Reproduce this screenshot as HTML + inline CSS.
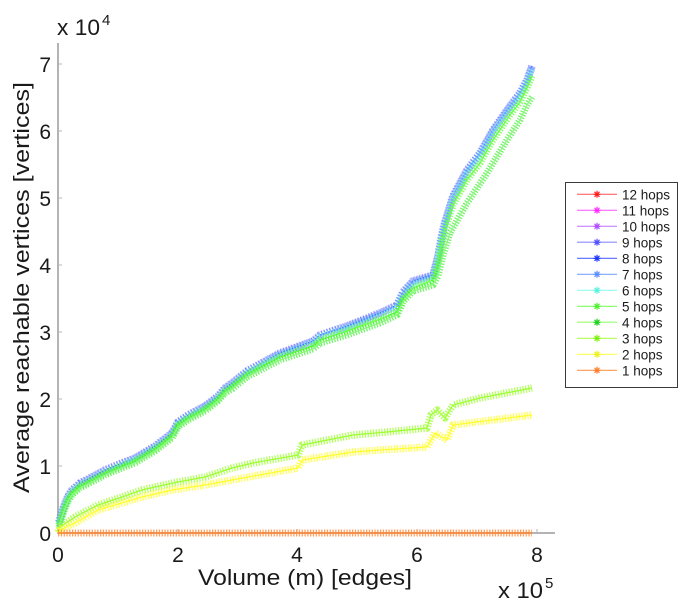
<!DOCTYPE html>
<html><head><meta charset="utf-8"><style>
html,body{margin:0;padding:0;background:#fff;}
svg{display:block;}
text{font-family:"Liberation Sans",Arial,sans-serif;fill:#1a1a1a;}
</style></head><body>
<svg width="682" height="600" viewBox="0 0 682 600" xmlns="http://www.w3.org/2000/svg">
<defs>
<path id="ast" d="M-3.5,0H3.5M0,-3.5V3.5M-2.5,-2.5L2.5,2.5M-2.5,2.5L2.5,-2.5" fill="none" stroke-width="1.2"/>
</defs>
<!-- axes -->
<g stroke="#b4b4b4" stroke-width="2" fill="none">
<line x1="58" y1="43" x2="58" y2="534"/>
<line x1="57" y1="533" x2="555" y2="533"/>
</g>
<g stroke="#b4b4b4" stroke-width="1" fill="none">
<line x1="58" y1="466" x2="62" y2="466"/><line x1="58" y1="399" x2="62" y2="399"/><line x1="58" y1="332" x2="62" y2="332"/><line x1="58" y1="265" x2="62" y2="265"/><line x1="58" y1="198" x2="62" y2="198"/><line x1="58" y1="131" x2="62" y2="131"/><line x1="58" y1="64" x2="62" y2="64"/>
<line x1="178" y1="533" x2="178" y2="529"/><line x1="297" y1="533" x2="297" y2="529"/><line x1="417" y1="533" x2="417" y2="529"/><line x1="537" y1="533" x2="537" y2="529"/>
</g>
<!-- y tick labels -->
<g font-size="21" text-anchor="end">
<text x="51" y="541">0</text><text x="51" y="474">1</text><text x="51" y="407">2</text><text x="51" y="340">3</text><text x="51" y="273">4</text><text x="51" y="206">5</text><text x="51" y="139">6</text><text x="51" y="72">7</text>
</g>
<g font-size="21" text-anchor="middle">
<text x="58" y="562">0</text><text x="178" y="562">2</text><text x="297" y="562">4</text><text x="417" y="562">6</text><text x="537" y="562">8</text>
</g>
<text x="57" y="35" font-size="22" textLength="43" lengthAdjust="spacingAndGlyphs">x 10</text><text x="102" y="25" font-size="15">4</text>
<text x="498" y="598" font-size="22" textLength="45" lengthAdjust="spacingAndGlyphs">x 10</text><text x="545" y="588" font-size="15">5</text>
<text x="198" y="585" font-size="22" textLength="214" lengthAdjust="spacingAndGlyphs">Volume (m) [edges]</text>
<text transform="translate(29,287.5) rotate(-90)" x="0" y="0" font-size="22" text-anchor="middle" textLength="411" lengthAdjust="spacingAndGlyphs">Average reachable vertices [vertices]</text>

<!-- series -->
<g fill="none" stroke-linejoin="round">
<!-- 9 hops -->
<g stroke="#8a8cff">
<polyline stroke-width="8" stroke-dasharray="1.3 1.5" stroke-opacity="0.6" points="59,522 61,515 64,506 68,496 72,490 80,483 88,479 105,470 122,463 135,458 155,446 172,433 178,422 188,415 205,406 218,396 225,388 232,383 247,371 280,353 313,341 320,335 347,326 380,313 397,305 403,292 413,281 423,278 433,275 438,256 442,234 445,222 453,196 467,170 480,153 493,130 510,106 520,93 527,80 532,66"/>
</g>
<!-- 8 hops -->
<g stroke="#4a60ff">
<polyline stroke-width="7" stroke-dasharray="1.2 1.8" stroke-opacity="0.6" points="59,522 61,515 64,506 68,496 72,490 80,483 88,479 105,470 122,463 135,458 155,446 172,433 178,422 188,415 205,406 218,396 225,388 232,383 247,371 280,353 313,341 320,335 347,326 380,313 397,305 403,292 413,281 423,278 433,275 438,256 442,234 445,222 453,196 467,170 480,153 493,130 510,106 520,93 527,80 532,66"/>
<polyline stroke-width="1.2" points="59,522 61,515 64,506 68,496 72,490 80,483 88,479 105,470 122,463 135,458 155,446 172,433 178,422 188,415 205,406 218,396 225,388 232,383 247,371 280,353 313,341 320,335 347,326 380,313 397,305 403,292 413,281 423,278 433,275 438,256 442,234 445,222 453,196 467,170 480,153 493,130 510,106 520,93 527,80 532,66"/>
</g>
<!-- 7 hops -->
<g stroke="#6ea4ff">
<polyline stroke-width="7" stroke-dasharray="1.3 1.6" stroke-opacity="0.7" points="59,523 61,516 64,507 68,497 72,491 80,484 88,480 105,471 122,464 135,459 155,447 172,434 178,423 188,416 205,407 218,397 225,389 232,384 247,372 280,354 313,342 320,336 347,327 380,314 397,306 403,293 413,282 423,279 433,276 438,257 442,235 445,223 453,197 467,171 480,154 493,131 510,107 520,94 527,81 532,67"/>
<polyline stroke-width="1.2" points="59,523 61,516 64,507 68,497 72,491 80,484 88,480 105,471 122,464 135,459 155,447 172,434 178,423 188,416 205,407 218,397 225,389 232,384 247,372 280,354 313,342 320,336 347,327 380,314 397,306 403,293 413,282 423,279 433,276 438,257 442,235 445,223 453,197 467,171 480,154 493,131 510,107 520,94 527,81 532,67"/>
</g>
<!-- 6 hops -->
<g stroke="#80f8e8">
<polyline stroke-width="6.5" stroke-dasharray="1.3 1.6" stroke-opacity="0.75" points="59,524 61,517 64,508 68,498 72,492 80,485 88,481 105,472 122,465 135,460 155,448 172,435 178,424 188,417 205,408 218,398 225,390 232,385 247,373 280,355 313,343 320,337 347,328 380,316 397,308 403,295 413,284 423,281 433,278 438,259 442,237 445,225 453,199 467,173 480,156 493,133 510,109 520,96 527,83 532,69"/>
</g>
<!-- 5 hops -->
<g stroke="#66ff40">
<polyline stroke-width="7" stroke-dasharray="1.3 1.5" stroke-opacity="0.75" points="59,525 61,518 64,509 68,499 72,493 80,486 88,482 105,473 122,466 135,461 155,449 172,436 178,425 188,418 205,409 218,399 225,391 232,386 247,374 280,357 313,346 320,340 347,331 380,319 397,312 403,299 413,288 423,284 433,280 438,262 442,240 445,230 453,205 467,180 480,163 493,140 510,115 520,102 527,88 532,76"/>
<polyline stroke-width="1.2" points="59,525 61,518 64,509 68,499 72,493 80,486 88,482 105,473 122,466 135,461 155,449 172,436 178,425 188,418 205,409 218,399 225,391 232,386 247,374 280,357 313,346 320,340 347,331 380,319 397,312 403,299 413,288 423,284 433,280 438,262 442,240 445,230 453,205 467,180 480,163 493,140 510,115 520,102 527,88 532,76"/>
</g>
<!-- 4 hops -->
<g stroke="#3cec30">
<polyline stroke-width="7" stroke-dasharray="1.3 1.5" stroke-opacity="0.7" points="59,527 61,520 64,511 68,501 72,495 80,488 88,484 105,475 122,468 135,463 155,451 172,438 178,427 188,420 205,411 218,401 225,393 232,389 247,377 280,360 313,349 320,343 347,335 380,323 397,315 403,302 413,291 423,288 433,285 438,276 443,255 450,233 467,203 487,173 507,140 520,120 527,105 532,97"/>
<polyline stroke-width="1.2" stroke="#90f880" points="59,527 61,520 64,511 68,501 72,495 80,488 88,484 105,475 122,468 135,463 155,451 172,438 178,427 188,420 205,411 218,401 225,393 232,389 247,377 280,360 313,349 320,343 347,335 380,323 397,315 403,302 413,291 423,288 433,285 438,276 443,255 450,233 467,203 487,173 507,140 520,120 527,105 532,97"/>
</g>
<!-- 3 hops -->
<g stroke="#9cff30">
<polyline stroke-width="7.5" stroke-dasharray="1.3 1.5" stroke-opacity="0.75" points="58,532 60,527 75,517 98,505 122,497 142,490 155,487 178,482 205,477 232,468 253,463 298,455 302,445 353,435 387,432 427,428 431,415 437,410 445,418 453,405 480,398 532,388"/>
<polyline stroke-width="1.2" points="58,532 60,527 75,517 98,505 122,497 142,490 155,487 178,482 205,477 232,468 253,463 298,455 302,445 353,435 387,432 427,428 431,415 437,410 445,418 453,405 480,398 532,388"/>
</g>
<!-- 2 hops -->
<g stroke="#ffff30">
<polyline stroke-width="7.5" stroke-dasharray="1.3 1.5" stroke-opacity="0.8" points="58,533 60,530 75,523 98,510 142,497 172,490 205,485 232,480 298,468 302,460 353,452 380,450 427,447 435,433 447,440 453,425 532,415"/>
<polyline stroke-width="1.2" points="58,533 60,530 75,523 98,510 142,497 172,490 205,485 232,480 298,468 302,460 353,452 380,450 427,447 435,433 447,440 453,425 532,415"/>
</g>
<!-- 1 hops -->
<g stroke="#ff8a3a">
<line x1="58" y1="533" x2="532" y2="533" stroke-width="7" stroke-dasharray="1.3 1.5" stroke-opacity="0.8"/>
<line x1="58" y1="533" x2="532" y2="533" stroke-width="1.5"/>
</g>
</g>

<!-- legend -->
<rect x="565.5" y="182.5" width="112" height="205" fill="#fff" stroke="#3a3a3a" stroke-width="1"/>
<g font-size="13.5">
<g transform="translate(0,194.3)"><line x1="577" y1="0" x2="617" y2="0" stroke="#ff5050" stroke-width="1"/><use href="#ast" x="597" y="0" stroke="#ff2020"/><text x="622" y="5">12 hops</text></g>
<g transform="translate(0,210.3)"><line x1="577" y1="0" x2="617" y2="0" stroke="#ff50ff" stroke-width="1"/><use href="#ast" x="597" y="0" stroke="#ff30ff"/><text x="622" y="5">11 hops</text></g>
<g transform="translate(0,226.3)"><line x1="577" y1="0" x2="617" y2="0" stroke="#c070ff" stroke-width="1"/><use href="#ast" x="597" y="0" stroke="#b050ff"/><text x="622" y="5">10 hops</text></g>
<g transform="translate(0,242.3)"><line x1="577" y1="0" x2="617" y2="0" stroke="#a8a8ff" stroke-width="1.5"/><use href="#ast" x="597" y="0" stroke="#5050ff"/><text x="622" y="5">9 hops</text></g>
<g transform="translate(0,258.3)"><line x1="577" y1="0" x2="617" y2="0" stroke="#5068ff" stroke-width="1.2"/><use href="#ast" x="597" y="0" stroke="#2038ff"/><text x="622" y="5">8 hops</text></g>
<g transform="translate(0,274.3)"><line x1="577" y1="0" x2="617" y2="0" stroke="#7aa8ff" stroke-width="1.2"/><use href="#ast" x="597" y="0" stroke="#5a90ff"/><text x="622" y="5">7 hops</text></g>
<g transform="translate(0,290.3)"><line x1="577" y1="0" x2="617" y2="0" stroke="#90fff0" stroke-width="1.2"/><use href="#ast" x="597" y="0" stroke="#60f0e0"/><text x="622" y="5">6 hops</text></g>
<g transform="translate(0,306.3)"><line x1="577" y1="0" x2="617" y2="0" stroke="#80ff60" stroke-width="1.2"/><use href="#ast" x="597" y="0" stroke="#50f030"/><text x="622" y="5">5 hops</text></g>
<g transform="translate(0,322.3)"><line x1="577" y1="0" x2="617" y2="0" stroke="#b0ff90" stroke-width="1.5"/><use href="#ast" x="597" y="0" stroke="#20d020"/><text x="622" y="5">4 hops</text></g>
<g transform="translate(0,338.3)"><line x1="577" y1="0" x2="617" y2="0" stroke="#b0ff50" stroke-width="1.2"/><use href="#ast" x="597" y="0" stroke="#80f010"/><text x="622" y="5">3 hops</text></g>
<g transform="translate(0,354.3)"><line x1="577" y1="0" x2="617" y2="0" stroke="#ffff50" stroke-width="1.2"/><use href="#ast" x="597" y="0" stroke="#f0f020"/><text x="622" y="5">2 hops</text></g>
<g transform="translate(0,370.3)"><line x1="577" y1="0" x2="617" y2="0" stroke="#ff9a50" stroke-width="1.2"/><use href="#ast" x="597" y="0" stroke="#ff8030"/><text x="622" y="5">1 hops</text></g>
</g>
</svg>
</body></html>
